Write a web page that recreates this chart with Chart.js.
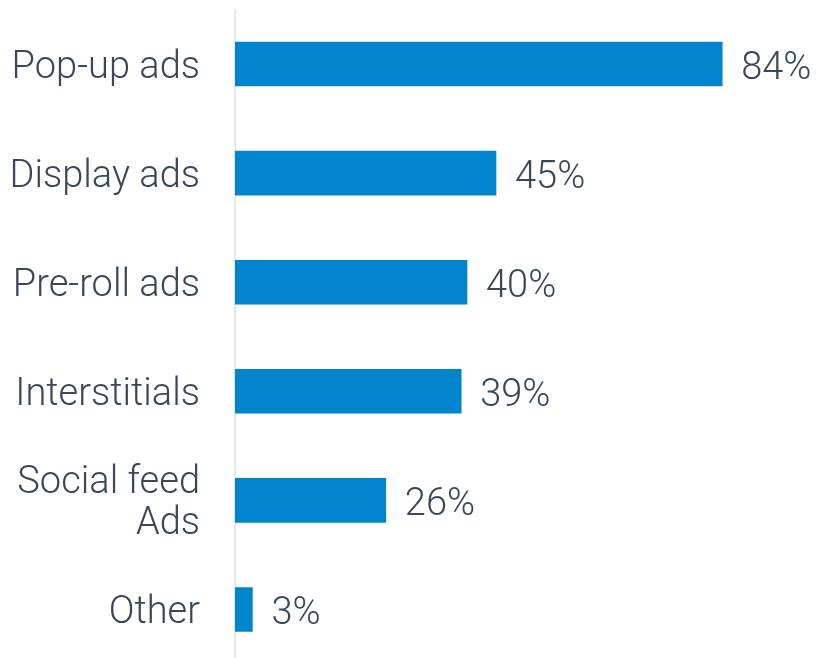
<!DOCTYPE html>
<html>
<head>
<meta charset="utf-8">
<script src="https://cdn.jsdelivr.net/npm/chart.js@4"></script>
<style>
  html, body { margin: 0; padding: 0; background: #fff; overflow: hidden; }
  #wrap { width: 819px; height: 664px; position: relative; }
</style>
</head>
<body>
<div id="wrap"><canvas id="myChart"></canvas></div>
<script>
const categories = ['Pop-up ads', 'Display ads', 'Pre-roll ads', 'Interstitials', ['Social feed', 'Ads'], 'Other']
const values = [84, 45, 40, 39, 26, 3]
const valueLabels = ['84%', '45%', '40%', '39%', '26%', '3%']

const textColor = '#3b4759'
const fontFamily = 'Roboto, "Liberation Sans", Arial, sans-serif'

// writes the percentage just past the end of each bar
const barValues = {
    id: 'barValues',
    afterDatasetsDraw(chart) {
        const ctx = chart.ctx
        const meta = chart.getDatasetMeta(0)
        ctx.save()
        ctx.font = '300 38px ' + fontFamily
        ctx.fillStyle = textColor
        ctx.textAlign = 'left'
        ctx.textBaseline = 'middle'
        meta.data.forEach((bar, i) => {
            ctx.fillText(valueLabels[i], bar.x + 19, bar.y + 5)
        })
        ctx.restore()
    }
}

window.onload = function() {
    let ctx = document.getElementById('myChart').getContext('2d')
    const data_chart = {
        labels: categories,
        datasets: [{
            data: values,
            backgroundColor: '#0085cc',
            borderWidth: 0,
            barThickness: 44
        }]
    }
    const config = {
        type: 'bar',
        data: data_chart,
        plugins: [barValues],
        options: {
            indexAxis: 'y',
            responsive: true,
            maintainAspectRatio: false,
            animation: false,
            layout: { padding: { top: 9.5, right: 4, bottom: 0, left: 0 } },
            plugins: {
                legend: { display: false },
                tooltip: { enabled: false }
            },
            scales: {
                x: {
                    display: false,
                    min: 0,
                    max: 100
                },
                y: {
                    // fixed label column, and no extra room for the end labels
                    afterFit: (scale) => {
                        scale.width = 235
                        scale.paddingTop = 0
                        scale.paddingBottom = 0
                    },
                    grid: { display: false, drawTicks: false },
                    border: { display: true, color: '#e4e9f0', width: 2 },
                    ticks: {
                        color: textColor,
                        padding: 35,
                        labelOffset: 4,
                        font: { family: fontFamily, size: 38, weight: 300, lineHeight: 1.08 }
                    }
                }
            }
        }
    }
    let myChart = new Chart(ctx, config)
}
</script>
</body>
</html>
